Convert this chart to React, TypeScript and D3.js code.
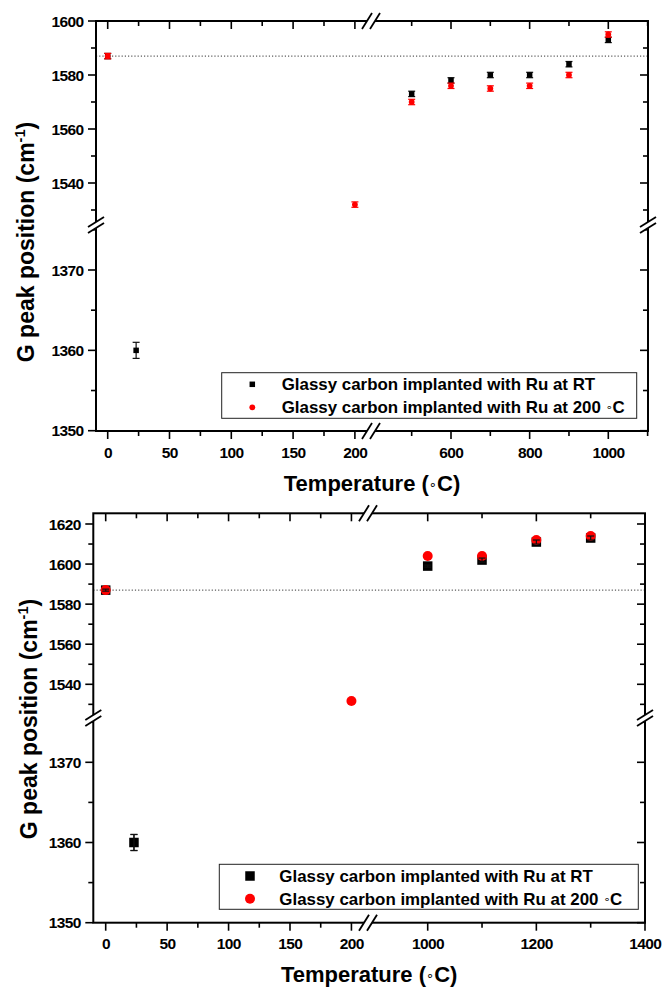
import React from 'react';
import * as d3 from 'd3';

// ---------- Data: top panel ----------
const tempRT_A = [0, 23, 500, 600, 700, 800, 900, 1000];
const gRT_A = [1587, 1360, 1573, 1578, 1580, 1580, 1584, 1593];
const errRT_A = [1, 1, 1, 1, 1, 1, 1, 1];
const temp200_A = [0, 200, 500, 600, 700, 800, 900, 1000];
const g200_A = [1587, 1532, 1570, 1576, 1575, 1576, 1580, 1595];
const err200_A = [1, 1, 1, 1, 1, 1, 1, 1];

// ---------- Data: bottom panel ----------
const tempRT_B = [0, 23, 1000, 1100, 1200, 1300];
const gRT_B = [1587, 1360, 1599, 1602, 1611, 1613];
const errRT_B = [0.5, 1, 0.5, 1, 1, 1];
const temp200_B = [0, 200, 1000, 1100, 1200, 1300];
const g200_B = [1587, 1531.7, 1604, 1604, 1612, 1614];
const err200_B = [0.5, 0.5, 0.5, 0.5, 0.5, 0.5];

const referenceG = 1587;

// ---------- Ticks ----------
const xMajor1 = [0, 50, 100, 150, 200];
const xMinor1 = [25, 75, 125, 175];
const xMajor2_A = [600, 800, 1000];
const xMinor2_A = [500, 700, 900, 1100];
const xMajor2_B = [1000, 1200, 1400];
const xMinor2_B = [1100, 1300];
const yMajorUpper_A = [1540, 1560, 1580, 1600];
const yMinorUpper_A = [1530, 1550, 1570, 1590];
const yMajorUpper_B = [1540, 1560, 1580, 1600, 1620];
const yMinorUpper_B = [1530, 1550, 1570, 1590, 1610];
const yMajorLower = [1350, 1360, 1370];
const yMinorLower = [1355, 1365, 1375];

const legendRT = 'Glassy carbon implanted with Ru at RT';
const legend200 = 'Glassy carbon implanted with Ru at 200 ';

const FONT = "'Liberation Sans', Arial, Helvetica, sans-serif";
const RED = '#ff0000';

type Cfg = {
  left: number; right: number; top: number; bottom: number;
  breakX: number; breakY: number;
  x1: [number[], number[]]; x2: [number[], number[]];
  yU: [number[], number[]]; yL: [number[], number[]];
  xMajor2: number[]; xMinor2: number[];
  yMajorU: number[]; yMinorU: number[];
  rt: { t: number[]; g: number[]; e: number[] };
  hot: { t: number[]; g: number[]; e: number[] };
  sq: number; r: number; cap: number; errOnTop: boolean;
  yTitleX: number; yTitleY: number;
  legend: { x: number; y: number; w: number; h: number; sx: number; tx: number; r1: number; r2: number };
};

function Panel({ c }: { c: Cfg }) {
  const xs1 = d3.scaleLinear().domain(c.x1[0]).range(c.x1[1]);
  const xs2 = d3.scaleLinear().domain(c.x2[0]).range(c.x2[1]);
  const yu = d3.scaleLinear().domain(c.yU[0]).range(c.yU[1]);
  const yl = d3.scaleLinear().domain(c.yL[0]).range(c.yL[1]);
  const X = (v: number) => (v < 300 ? xs1(v) : xs2(v));
  const Y = (v: number) => (v > 1450 ? yu(v) : yl(v));

  const xMaj = [...xMajor1, ...c.xMajor2];
  const xMin = [...xMinor1, ...c.xMinor2];
  const yMaj = [...c.yMajorU, ...yMajorLower];
  const yMin = [...c.yMinorU, ...yMinorLower];

  const MJ = 8, MN = 5;
  const tickProps = { stroke: '#000', strokeWidth: 1.6 };

  const errBars = (s: { t: number[]; g: number[]; e: number[] }, color: string, key: string) =>
    s.t.map((t, i) => {
      const x = X(t);
      const y1 = Y(s.g[i] - s.e[i]);
      const y2 = Y(s.g[i] + s.e[i]);
      return (
        <g key={key + i} stroke={color} strokeWidth={1.2}>
          <line x1={x} x2={x} y1={y1} y2={y2} />
          <line x1={x - c.cap / 2} x2={x + c.cap / 2} y1={y1} y2={y1} />
          <line x1={x - c.cap / 2} x2={x + c.cap / 2} y1={y2} y2={y2} />
        </g>
      );
    });

  const squares = c.rt.t.map((t, i) => (
    <rect key={'s' + i} x={X(t) - c.sq / 2} y={Y(c.rt.g[i]) - c.sq / 2} width={c.sq} height={c.sq} fill="#000" />
  ));
  const circles = c.hot.t.map((t, i) => (
    <circle key={'c' + i} cx={X(t)} cy={Y(c.hot.g[i])} r={c.r} fill={RED} />
  ));

  const yBreak = (x: number) => {
    const y = c.breakY;
    return (
      <g>
        <polygon points={`${x - 8},${y + 2} ${x + 8},${y - 8} ${x + 8},${y - 2} ${x - 8},${y + 8}`} fill="#fff" />
        <line x1={x - 8} y1={y + 2} x2={x + 8} y2={y - 8} stroke="#000" strokeWidth={1.8} />
        <line x1={x - 8} y1={y + 8} x2={x + 8} y2={y - 2} stroke="#000" strokeWidth={1.8} />
      </g>
    );
  };
  const xBreak = (y: number) => {
    const x = c.breakX;
    return (
      <g>
        <polygon points={`${x - 9},${y + 8} ${x + 1},${y - 8} ${x + 9},${y - 8} ${x - 1},${y + 8}`} fill="#fff" />
        <line x1={x - 9} y1={y + 8} x2={x + 1} y2={y - 8} stroke="#000" strokeWidth={1.8} />
        <line x1={x - 1} y1={y + 8} x2={x + 9} y2={y - 8} stroke="#000" strokeWidth={1.8} />
      </g>
    );
  };

  const L = c.legend;
  const tickFont = { fontSize: 15.5, letterSpacing: -0.6 };
  return (
    <g fontFamily={FONT} fontWeight="bold">
      <line x1={c.left} x2={c.right} y1={Y(referenceG)} y2={Y(referenceG)} stroke="#333" strokeWidth={1} strokeDasharray="1.2 2" />

      {errBars(c.rt, '#111', 'er')}
      {squares}
      {!c.errOnTop && errBars(c.hot, RED, 'eh')}
      {circles}
      {c.errOnTop && errBars(c.rt, '#111', 'er2')}

      <rect x={c.left} y={c.top} width={c.right - c.left} height={c.bottom - c.top} fill="none" stroke="#000" strokeWidth={2} />

      {xMaj.map((v) => (
        <g key={'xM' + v} {...tickProps}>
          <line x1={X(v)} x2={X(v)} y1={c.bottom} y2={c.bottom + MJ} />
          <line x1={X(v)} x2={X(v)} y1={c.top} y2={c.top + MJ} />
        </g>
      ))}
      {xMin.map((v) => (
        <g key={'xm' + v} {...tickProps}>
          <line x1={X(v)} x2={X(v)} y1={c.bottom} y2={c.bottom + MN} />
          <line x1={X(v)} x2={X(v)} y1={c.top} y2={c.top + MN} />
        </g>
      ))}
      {yMaj.map((v) => (
        <g key={'yM' + v} {...tickProps}>
          <line x1={c.left - MJ} x2={c.left} y1={Y(v)} y2={Y(v)} />
          <line x1={c.right - MJ} x2={c.right} y1={Y(v)} y2={Y(v)} />
        </g>
      ))}
      {yMin.map((v) => (
        <g key={'ym' + v} {...tickProps}>
          <line x1={c.left - MN} x2={c.left} y1={Y(v)} y2={Y(v)} />
          <line x1={c.right - MN} x2={c.right} y1={Y(v)} y2={Y(v)} />
        </g>
      ))}

      {yBreak(c.left)}
      {yBreak(c.right)}
      {xBreak(c.bottom)}
      {xBreak(c.top)}

      {xMaj.map((v) => (
        <text key={'xl' + v} x={X(v) + 0.3} y={c.bottom + 26.5} textAnchor="middle" {...tickFont}>{v}</text>
      ))}
      {yMaj.map((v) => (
        <text key={'yl' + v} x={c.left - 12.5} y={Y(v)} dy="0.36em" textAnchor="end" {...tickFont}>{v}</text>
      ))}

      <text x={(c.left + c.right) / 2} y={c.bottom + 59.5} textAnchor="middle" fontSize={22}>
        Temperature (<tspan fontFamily="'DejaVu Sans'" fontWeight="normal" fontSize={13} dy="-2">∘</tspan><tspan dy="2">C)</tspan>
      </text>
      <text transform={`translate(${c.yTitleX},${c.yTitleY}) rotate(-90)`} textAnchor="middle" fontSize={23}>
        G peak position (cm<tspan fontSize={14.5} dy="-9.5">-1</tspan><tspan dy="9.5">)</tspan>
      </text>

      <rect x={L.x} y={L.y} width={L.w} height={L.h} fill="#fff" stroke="#222" strokeWidth={1} />
      <rect x={L.sx - c.sq / 2} y={L.r1 - c.sq / 2} width={c.sq} height={c.sq} fill="#000" />
      <circle cx={L.sx} cy={L.r2} r={c.r} fill={RED} />
      <text x={L.tx} y={L.r1 + 6} fontSize={16.9}>{legendRT}</text>
      <text x={L.tx} y={L.r2 + 6} fontSize={16.9}>
        {legend200}<tspan fontFamily="'DejaVu Sans'" fontWeight="normal" fontSize={11} dy="-2">∘</tspan><tspan dy="2">C</tspan>
      </text>
    </g>
  );
}

const cfgA: Cfg = {
  left: 96, right: 648, top: 21, bottom: 431, breakX: 371, breakY: 225,
  x1: [[0, 200], [107.7, 354.9]],
  x2: [[600, 1000], [451, 608.3]],
  yU: [[1540, 1600], [183, 21]],
  yL: [[1350, 1370], [430.7, 270]],
  xMajor2: xMajor2_A, xMinor2: xMinor2_A,
  yMajorU: yMajorUpper_A, yMinorU: yMinorUpper_A,
  rt: { t: tempRT_A, g: gRT_A, e: errRT_A },
  hot: { t: temp200_A, g: g200_A, e: err200_A },
  sq: 5.5, r: 2.9, cap: 7, errOnTop: false,
  yTitleX: 34, yTitleY: 242,
  legend: { x: 221.7, y: 372.7, w: 415, h: 45.6, sx: 252.3, tx: 281.7, r1: 384.3, r2: 407.3 },
};

const cfgB: Cfg = {
  left: 93.3, right: 645, top: 513.3, bottom: 922.7, breakX: 368, breakY: 718,
  x1: [[0, 150], [105.7, 290]],
  x2: [[1000, 1400], [427.7, 645]],
  yU: [[1540, 1620], [684.3, 524]],
  yL: [[1350, 1370], [922.7, 762.3]],
  xMajor2: xMajor2_B, xMinor2: xMinor2_B,
  yMajorU: yMajorUpper_B, yMinorU: yMinorUpper_B,
  rt: { t: tempRT_B, g: gRT_B, e: errRT_B },
  hot: { t: temp200_B, g: g200_B, e: err200_B },
  sq: 9.5, r: 5, cap: 7, errOnTop: true,
  yTitleX: 37, yTitleY: 719,
  legend: { x: 219.3, y: 864.3, w: 419, h: 45, sx: 250, tx: 279.3, r1: 876, r2: 898.7 },
};

export default function App() {
  return (
    <svg width={662} height={987} style={{ position: 'absolute', left: 0, top: 0, display: 'block', background: '#fff' }}>
      <rect width={662} height={987} fill="#fff" />
      <Panel c={cfgA} />
      <Panel c={cfgB} />
    </svg>
  );
}
